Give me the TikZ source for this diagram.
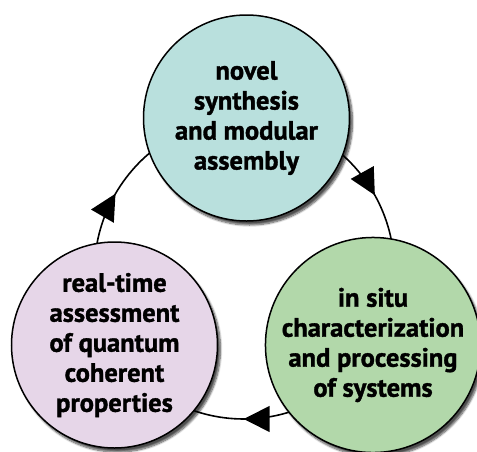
\documentclass[tikz,border=0pt]{standalone}
\usepackage{fontspec}
\setmainfont[BoldFeatures={FakeBold=1.3}]{PT Sans}
\usetikzlibrary{arrows.meta,decorations.markings,shadows.blur,backgrounds}

\definecolor{synthfill}{RGB}{185,224,221}
\definecolor{assessfill}{RGB}{230,214,232}
\definecolor{charfill}{RGB}{178,216,170}

\begin{document}
\begin{tikzpicture}[x=1pt,y=1pt]
\tikzset{
  stage/.style={circle, draw, line width=1.5pt, minimum size=206pt, inner sep=0pt,
    align=center, font=\bfseries\fontsize{26.5}{30}\selectfont,
    blur shadow={shadow xshift=3pt, shadow yshift=-4pt, shadow blur steps=8, shadow opacity=70}},
  cycleedge/.style={line width=1.6pt, bend left=60, looseness=1.13, postaction={decorate},
    decoration={markings, mark=at position 0.5 with {\arrow{Triangle[length=26pt,width=26pt]}}}}
}
\useasboundingbox (0,0) rectangle (477,-451);
\node[stage, fill=synthfill] (synth) at (246.5,-118) {novel\\synthesis\\and modular\\assembly};
\node[stage, fill=charfill] (charac) at (373,-345) {in situ\\characterization\\and processing\\of systems};
\node[stage, fill=assessfill] (assess) at (114.5,-345) {real-time\\assessment\\of quantum\\coherent\\properties};
% the cycle runs under the three stages
\begin{scope}[on background layer]
\draw[cycleedge] (synth.center) to (charac.center);
\draw[cycleedge] (charac.center) to (assess.center);
\draw[cycleedge] (assess.center) to (synth.center);
\end{scope}
\end{tikzpicture}
\end{document}
